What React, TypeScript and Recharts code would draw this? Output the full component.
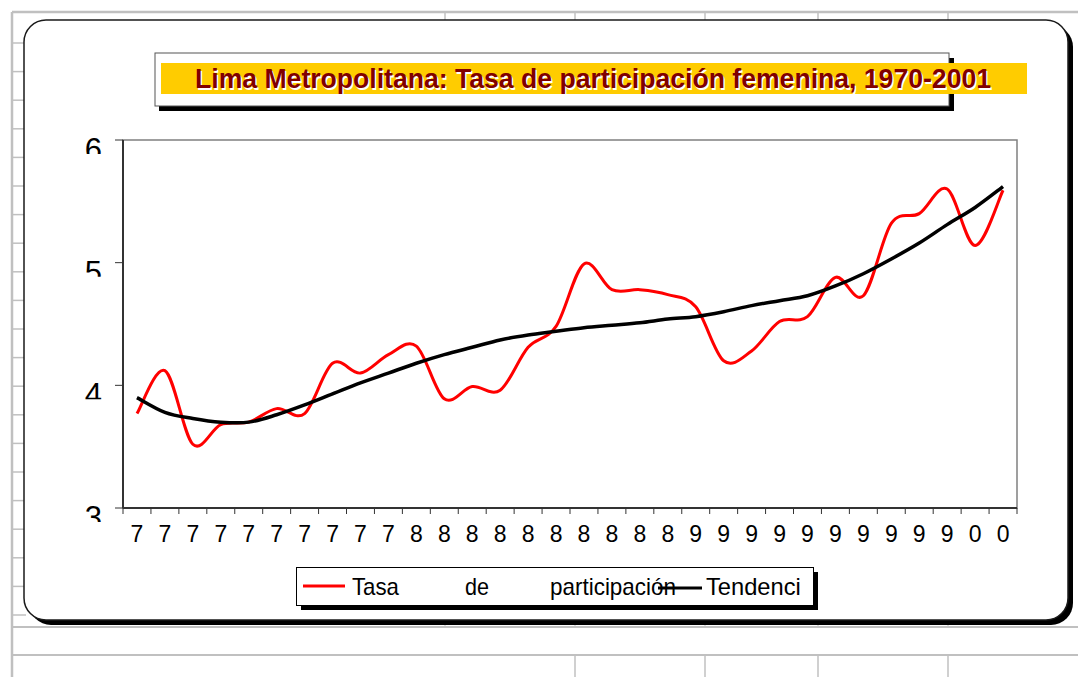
import { LineChart, Line, XAxis, YAxis, ReferenceArea, Legend } from 'recharts';

const FONT = '"Liberation Sans", Arial, Helvetica, sans-serif';

// años 1970-2001 (Excel solo muestra el primer dígito)
const years = [
    '70', '71', '72', '73', '74', '75', '76', '77', '78', '79',
    '80', '81', '82', '83', '84', '85', '86', '87', '88', '89',
    '90', '91', '92', '93', '94', '95', '96', '97', '98', '99',
    '00', '01',
];

const tasa = [
    3.77, 4.12, 3.52, 3.68, 3.70, 3.81, 3.77, 4.18, 4.10, 4.25,
    4.32, 3.89, 3.99, 3.96, 4.31, 4.48, 4.99, 4.78, 4.78, 4.74,
    4.64, 4.20, 4.28, 4.52, 4.56, 4.88, 4.73, 5.32, 5.40, 5.60,
    5.14, 5.59,
];

const tendencia = [
    3.90, 3.78, 3.73, 3.70, 3.70, 3.76, 3.84, 3.93, 4.02, 4.10,
    4.18, 4.25, 4.31, 4.37, 4.41, 4.44, 4.47, 4.49, 4.51, 4.54,
    4.56, 4.60, 4.65, 4.69, 4.73, 4.81, 4.91, 5.03, 5.16, 5.31,
    5.45, 5.62,
];

const yTicks = [3, 4, 5, 6];
const xTicks = [...years.map((_, i) => i), years.length];

const SERIES_TASA = 'Tasa de participación';
const SERIES_TEND = 'Tendencia';
const TITLE = 'Lima Metropolitana: Tasa de participación femenina, 1970-2001';

const data = years.map((y, i) => ({ x: i + 0.5, year: y, tasa: tasa[i], tendencia: tendencia[i] }));

// plot area in page pixels
const PLOT_LEFT = 123;
const PLOT_RIGHT = 1017;
const PLOT_TOP = 140;
const PLOT_BOTTOM = 508;
const STEP = (PLOT_RIGHT - PLOT_LEFT) / years.length;

// Excel-like smoothed line (Catmull-Rom through the points)
function excelSmooth(context: any) {
    let pts: [number, number][] = [];
    return {
        areaStart() {},
        areaEnd() {},
        lineStart() {
            pts = [];
        },
        point(x: number, y: number) {
            pts.push([+x, +y]);
        },
        lineEnd() {
            if (!pts.length) return;
            context.moveTo(pts[0][0], pts[0][1]);
            for (let i = 0; i < pts.length - 1; i++) {
                const p0 = pts[Math.max(i - 1, 0)];
                const p1 = pts[i];
                const p2 = pts[i + 1];
                const p3 = pts[Math.min(i + 2, pts.length - 1)];
                context.bezierCurveTo(
                    p1[0] + (p2[0] - p0[0]) / 6,
                    p1[1] + (p2[1] - p0[1]) / 6,
                    p2[0] - (p3[0] - p1[0]) / 6,
                    p2[1] - (p3[1] - p1[1]) / 6,
                    p2[0],
                    p2[1],
                );
            }
        },
    };
}

function XTick(props: any) {
    const { x, y, index } = props;
    if (index >= years.length) return null;
    return (
        <text x={x + STEP / 2} y={y + 16} textAnchor="middle" fontSize={23} fontFamily={FONT} fill="#000">
            {years[index].charAt(0)}
        </text>
    );
}

function YTick(props: any) {
    const { x, y, payload, index } = props;
    const id = `yclip-${index}`;
    return (
        <g>
            <clipPath id={id}>
                <rect x={x - 40} y={y - 3} width={44} height={17} />
            </clipPath>
            <text x={x} y={y + 20} textAnchor="end" fontSize={31} fontFamily={FONT} fill="#000" clipPath={`url(#${id})`}>
                {payload.value}
            </text>
        </g>
    );
}

function LegendBox(props: any) {
    const payload = props.payload || [];
    const first = payload[0];
    const second = payload[1];
    const words = first ? String(first.value).split(' ') : [];
    const wordX = [60, 173, 258];
    const wordLen = [47, 24, 126];
    return (
        <svg width={540} height={56} style={{ overflow: 'visible' }}>
            <rect x={9} y={10} width={517} height={38} fill="#000" />
            <rect x={4.5} y={5.5} width={517} height={38} fill="#fff" stroke="#000" strokeWidth={1} />
            {first && <line x1={11} x2={53} y1={24} y2={24} stroke={first.color} strokeWidth={3} />}
            {words.map((w, i) => (
                <text key={w} x={wordX[i]} y={33} fontSize={24} fontFamily={FONT} fill="#000"
                    textLength={wordLen[i]} lengthAdjust="spacingAndGlyphs">
                    {w}
                </text>
            ))}
            {second && (
                <>
                    <line x1={366} x2={410} y1={26} y2={26} stroke={second.color} strokeWidth={3} />
                    <clipPath id="legclip">
                        <rect x={400} y={0} width={108} height={56} />
                    </clipPath>
                    <text x={414} y={33} fontSize={24} fontFamily={FONT} fill="#000" clipPath="url(#legclip)"
                        textLength={108} lengthAdjust="spacingAndGlyphs">
                        {second.value}
                    </text>
                </>
            )}
        </svg>
    );
}

function Sheet() {
    const grid = '#c0c0c0';
    const rows: number[] = [];
    for (let r = 43; r < 620; r += 28.6) rows.push(r);
    const cols = [445, 575, 705, 818, 948];
    return (
        <svg width={1078} height={677} style={{ position: 'absolute', left: 0, top: 0 }}>
            <rect x={0} y={0} width={1078} height={677} fill="#fff" />
            <line x1={12} x2={1078} y1={12} y2={12} stroke={grid} strokeWidth={2.5} />
            <line x1={12} x2={12} y1={12} y2={677} stroke={grid} strokeWidth={2.5} />
            {rows.map((r) => (
                <line key={r} x1={12} x2={26} y1={r} y2={r} stroke={grid} strokeWidth={1.5} />
            ))}
            {cols.map((c) => (
                <g key={c}>
                    <line x1={c} x2={c} y1={12} y2={22} stroke={grid} strokeWidth={1.5} />
                    <line x1={c} x2={c} y1={618} y2={627} stroke={grid} strokeWidth={1} />
                    {c !== 445 && <line x1={c} x2={c} y1={655} y2={677} stroke={grid} strokeWidth={1.5} />}
                </g>
            ))}
            <line x1={12} x2={1078} y1={627} y2={627} stroke={grid} strokeWidth={2} />
            <line x1={12} x2={1078} y1={655} y2={655} stroke={grid} strokeWidth={2} />

            {/* chart area with shadow */}
            <rect x={29} y={25} width={1044} height={600} rx={22} fill="#000" />
            <rect x={24} y={20} width={1044} height={600} rx={22} fill="#fff" stroke="#1a1a1a" strokeWidth={1.5} />

            {/* title */}
            <rect x={159} y={58} width={795} height={53} fill="#000" />
            <rect x={155} y={53} width={794} height={53} fill="#fff" stroke="#555" strokeWidth={1} />
            <rect x={161} y={63} width={866} height={31} fill="#ffcc00" />
            <text x={594.5} y={89.5} textAnchor="middle" fontSize={27} fontWeight="bold" fontFamily={FONT}
                fill="#fff" textLength={796} lengthAdjust="spacingAndGlyphs">
                {TITLE}
            </text>
            <text x={593} y={88} textAnchor="middle" fontSize={27} fontWeight="bold" fontFamily={FONT}
                fill="#800000" textLength={796} lengthAdjust="spacingAndGlyphs">
                {TITLE}
            </text>
        </svg>
    );
}

export default function App() {
    return (
        <div style={{ position: 'absolute', left: 0, top: 0, width: 1078, height: 677, overflow: 'hidden', background: '#fff' }}>
            <Sheet />
            <div style={{ position: 'absolute', left: 0, top: 0 }}>
                <LineChart
                    width={1078}
                    height={677}
                    data={data}
                    margin={{ top: PLOT_TOP, right: 1078 - PLOT_RIGHT, bottom: 677 - PLOT_BOTTOM - 40, left: PLOT_LEFT - 60 }}
                >
                    <ReferenceArea x1={0} x2={years.length} y1={3} y2={6} fill="none" stroke="#808080" strokeWidth={1.5} />
                    <XAxis
                        dataKey="x"
                        type="number"
                        domain={[0, years.length]}
                        ticks={xTicks}
                        interval={0}
                        height={40}
                        tickSize={6}
                        tickMargin={12}
                        stroke="#333"
                        axisLine={{ stroke: '#333', strokeWidth: 2 }}
                        tickLine={{ stroke: '#333' }}
                        tick={XTick}
                    />
                    <YAxis
                        type="number"
                        domain={[3, 6]}
                        ticks={yTicks}
                        interval={0}
                        width={60}
                        tickSize={8}
                        tickMargin={13}
                        axisLine={{ stroke: '#333', strokeWidth: 2 }}
                        tickLine={{ stroke: '#333' }}
                        tick={YTick}
                    />
                    <Legend
                        layout="horizontal"
                        verticalAlign="middle"
                        align="center"
                        wrapperStyle={{ left: 292, top: 562, width: 540, height: 56 }}
                        content={LegendBox}
                    />
                    <Line
                        type={excelSmooth as any}
                        dataKey="tasa"
                        name={SERIES_TASA}
                        stroke="#ff0000"
                        strokeWidth={3}
                        dot={false}
                        activeDot={false}
                        isAnimationActive={false}
                    />
                    <Line
                        type={excelSmooth as any}
                        dataKey="tendencia"
                        name={SERIES_TEND}
                        stroke="#000"
                        strokeWidth={3.5}
                        dot={false}
                        activeDot={false}
                        isAnimationActive={false}
                    />
                </LineChart>
            </div>
        </div>
    );
}
